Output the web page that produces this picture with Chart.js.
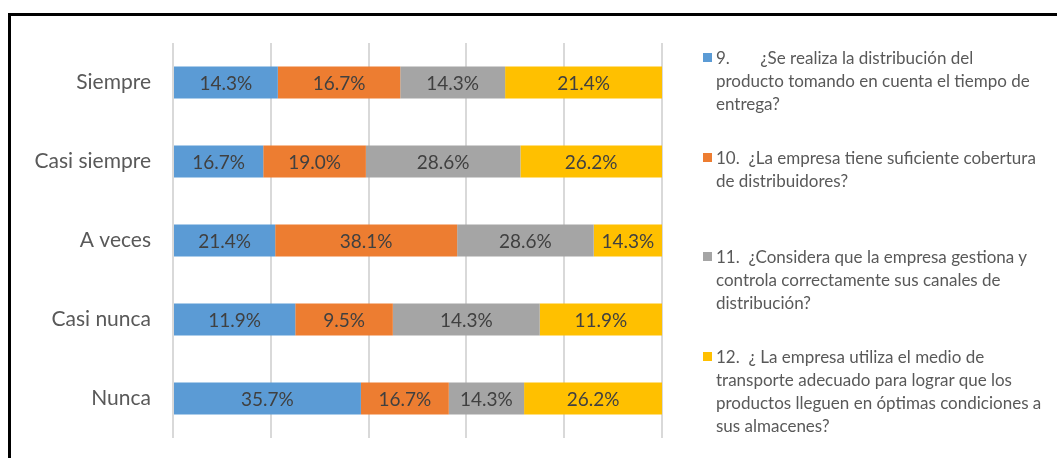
<!DOCTYPE html>
<html>
<head>
<meta charset="utf-8">
<script src="https://cdn.jsdelivr.net/npm/chart.js@4/dist/chart.umd.min.js"></script>
<style>
  html, body { margin: 0; padding: 0; background: #fff; }
  #wrap { position: relative; width: 1057px; height: 458px; overflow: hidden; }
  #frame { position: absolute; left: 8px; top: 13px; width: 1100px; height: 500px;
           border-top: 3px solid #000; border-left: 3px solid #000; box-sizing: border-box; }
  canvas { position: absolute; left: 0; top: 0; }
  #legend { position: absolute; left: 0; top: 0; width: 1057px; height: 458px; pointer-events: none;
            font-family: Lato, "Open Sans", sans-serif; font-size: 17px; color: #595959; }
  .item { position: absolute; left: 716px; width: 345px; line-height: 23px; white-space: pre; }
  .box { position: absolute; left: -13px; top: 7px; width: 9px; height: 9px; }
</style>
</head>
<body>
<div id="wrap">
  <div id="frame"></div>
  <canvas id="c" width="1057" height="458"></canvas>
  <div id="legend"></div>
</div>
<script>
const categories = ["Siempre", "Casi siempre", "A veces", "Casi nunca", "Nunca"];
const seriesNames = [
  "9.       ¿Se realiza la distribución del\nproducto tomando en cuenta el tiempo de\nentrega?",
  "10.  ¿La empresa tiene suficiente cobertura\nde distribuidores?",
  "11.  ¿Considera que la empresa gestiona y\ncontrola correctamente sus canales de\ndistribución?",
  "12.  ¿ La empresa utiliza el medio de\ntransporte adecuado para lograr que los\nproductos lleguen en óptimas condiciones a\nsus almacenes?"
];
const q9  = [14.3, 16.7, 21.4, 11.9, 35.7];
const q10 = [16.7, 19.0, 38.1,  9.5, 16.7];
const q11 = [14.3, 28.6, 28.6, 14.3, 14.3];
const q12 = [21.4, 26.2, 14.3, 11.9, 26.2];
const xTicks = [0, 20, 40, 60, 80, 100];

const colors = ["#5B9BD5", "#ED7D31", "#A5A5A5", "#FFC000"];
const raw = [q9, q10, q11, q12];
const totals = categories.map((_, i) => raw.reduce((s, a) => s + a[i], 0));
const datasets = raw.map((arr, k) => ({
  label: seriesNames[k],
  data: arr.map((v, i) => v / totals[i] * 100),
  rawValues: arr,
  backgroundColor: colors[k],
  borderWidth: 0,
  barPercentage: 0.405,
  categoryPercentage: 1.0
}));

const labelPlugin = {
  id: 'valueLabels',
  afterDatasetsDraw(chart) {
    const ctx = chart.ctx;
    ctx.save();
    ctx.font = '19px Lato, "Open Sans", sans-serif';
    ctx.fillStyle = '#404040';
    ctx.textAlign = 'center';
    ctx.textBaseline = 'middle';
    chart.data.datasets.forEach((ds, di) => {
      const meta = chart.getDatasetMeta(di);
      meta.data.forEach((bar, i) => {
        const cx = (bar.x + bar.base) / 2;
        ctx.fillText(ds.rawValues[i].toFixed(1) + '%', cx, bar.y + 1);
      });
    });
    ctx.restore();
  }
};

new Chart(document.getElementById('c'), {
  type: 'bar',
  data: { labels: categories, datasets },
  options: {
    indexAxis: 'y',
    responsive: false,
    animation: false,
    layout: { padding: { left: 0, right: 395, top: 43, bottom: 20 } },
    plugins: { legend: { display: false }, tooltip: { enabled: false } },
    scales: {
      x: {
        stacked: true, min: 0, max: 100,
        afterBuildTicks: s => { s.ticks = xTicks.map(v => ({ value: v })); },
        afterFit: s => { s.height = 0; s.paddingLeft = 0; s.paddingRight = 0; },
        grid: { color: '#D9D9D9', lineWidth: 2, drawTicks: false },
        border: { display: false },
        ticks: { display: false }
      },
      y: {
        stacked: true,
        afterFit: s => { s.width = 173; s.paddingTop = 0; s.paddingBottom = 0; },
        grid: { display: false, drawTicks: false },
        border: { display: false },
        ticks: { color: '#595959', padding: 22, font: { family: 'Lato, "Open Sans", sans-serif', size: 21 } }
      }
    }
  },
  plugins: [labelPlugin]
});

const legend = document.getElementById('legend');
const itemTops = [46, 146, 245, 345];
seriesNames.forEach((name, k) => {
  const d = document.createElement('div');
  d.className = 'item';
  d.style.top = itemTops[k] + 'px';
  const b = document.createElement('span');
  b.className = 'box';
  b.style.background = colors[k];
  d.appendChild(b);
  d.appendChild(document.createTextNode(name));
  legend.appendChild(d);
});
</script>
</body>
</html>
